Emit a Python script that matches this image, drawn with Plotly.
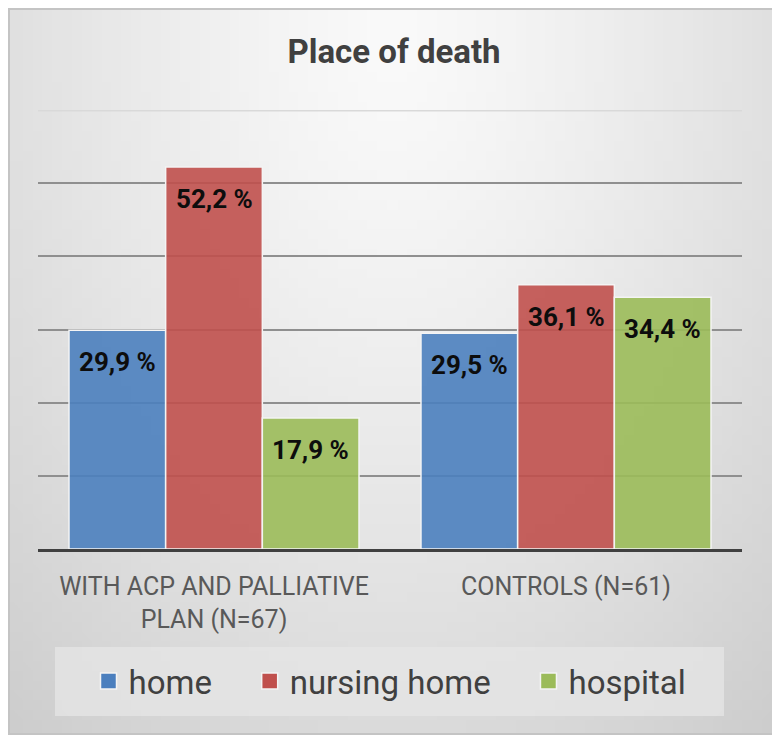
import base64
import struct
import zlib

import numpy as np
import plotly.graph_objects as go

# data
groups = ["WITH ACP AND PALLIATIVE<br>PLAN (N=67)", "CONTROLS (N=61)"]
places = ["home", "nursing home", "hospital"]
home = [29.9, 29.5]
nursing_home = [52.2, 36.1]
hospital = [17.9, 34.4]
series = [home, nursing_home, hospital]
colors = ["rgba(75,127,190,0.9)", "rgba(192,80,77,0.9)", "rgba(155,187,89,0.9)"]
solid = ["#4b7fbe", "#c0504d", "#9bbb59"]

# the page body adds an 8px margin, so the figure is drawn 8px smaller
OFF = 8
W, H = 780 - OFF, 740 - OFF
ML, MR, MT, MB = 38 - OFF, 38, 110 - OFF, 191
BARGAP = 0.176


def gradient_png(w=78, h=74):
    # soft radial grey background, lightest at top centre
    ys, xs = np.mgrid[0:h, 0:w]
    px = (xs + 0.5) / w * 770 + 5
    py = (ys + 0.5) / h * 729 + 5
    d = np.sqrt(((px - 390) / 520) ** 2 + ((py - 40) / 800) ** 2)
    c = np.clip(250 - 38 * d ** 1.3, 0, 255).astype(np.uint8)
    raw = b"".join(b"\x00" + row.tobytes() for row in c)

    def chunk(tag, data):
        body = tag + data
        return struct.pack(">I", len(data)) + body + struct.pack(">I", zlib.crc32(body) & 0xffffffff)

    png = b"\x89PNG\r\n\x1a\n"
    png += chunk(b"IHDR", struct.pack(">IIBBBBB", w, h, 8, 0, 0, 0, 0))
    png += chunk(b"IDAT", zlib.compress(raw, 9))
    png += chunk(b"IEND", b"")
    return "data:image/png;base64," + base64.b64encode(png).decode()


pw = W - ML - MR
ph = H - MT - MB


def px_x(x):
    return (x - OFF - ML) / pw


def px_y(y):
    return (H - MB - (y - OFF)) / ph


fig = go.Figure()
for name, vals, col in zip(places, series, colors):
    fig.add_trace(go.Bar(x=groups, y=vals, name=name, showlegend=False,
                         marker=dict(color=col, line=dict(color="#f4f4f4", width=1.5))))
# legend entries with bigger squares; trailing nbsp widen the gap between items
pad = ["\u00a0" * 4, "\u00a0" * 4, ""]
for name, col, p in zip(places, solid, pad):
    fig.add_trace(go.Scatter(x=[None], y=[None], mode="markers", name=name + p,
                             marker=dict(symbol="square", size=16, color=col,
                                         line=dict(color="#f4f4f4", width=1.5))))

bar_px = pw / len(groups) * (1 - BARGAP) / len(places)
for i, vals in enumerate(series):
    for g, v in zip(groups, vals):
        fig.add_annotation(x=g, y=v, text=f"{v:.1f}".replace(".", ",") + " %",
                           showarrow=False, xshift=(i - 1) * bar_px, yshift=-32,
                           font=dict(family="Roboto", size=26, color="#0d0d0d", weight="bold"))

fx0, fx1 = px_x(OFF + 1), px_x(776)
fy0, fy1 = px_y(734), px_y(OFF + 1)
fig.add_layout_image(source=gradient_png(), xref="paper", yref="paper", x=px_x(OFF), y=px_y(OFF),
                     sizex=px_x(776) - px_x(OFF), sizey=px_y(OFF) - px_y(734),
                     xanchor="left", yanchor="top", sizing="stretch", layer="below")
fig.add_shape(type="rect", xref="paper", yref="paper", x0=fx0, x1=fx1, y0=fy0, y1=fy1,
              line=dict(color="#c4c4c4", width=2), layer="below")
# legend box
fig.add_shape(type="rect", xref="paper", yref="paper",
              x0=px_x(55), x1=px_x(724), y0=px_y(716), y1=px_y(647),
              line=dict(width=0), fillcolor="rgba(230,230,230,0.75)", layer="below")
# top gridline is paler
fig.add_shape(type="line", xref="paper", yref="y", x0=0, x1=1, y0=60, y1=60,
              line=dict(color="#d9d9d9", width=3), layer="below")

fig.update_layout(
    width=W, height=H,
    margin=dict(l=ML, r=MR, t=MT, b=MB),
    paper_bgcolor="white", plot_bgcolor="rgba(0,0,0,0)",
    barmode="group", bargap=BARGAP, bargroupgap=0,
    title=dict(text="<b>Place of death</b>", x=0.5, xanchor="center",
               y=1 - (51 - OFF) / H, yanchor="middle",
               font=dict(family="Roboto", size=33, color="#404040")),
    xaxis=dict(showline=True, linecolor="#404040", linewidth=3, ticks="outside",
               ticklen=13, tickcolor="rgba(0,0,0,0)",
               tickfont=dict(family="Roboto", size=25, color="#595959")),
    yaxis=dict(range=[0, 60], tickvals=[10, 20, 30, 40, 50], showticklabels=False,
               gridcolor="#8f8f8f", gridwidth=2, zeroline=False),
    legend=dict(orientation="h", x=0.5, xanchor="center", y=px_y(681),
                yanchor="middle", bgcolor="rgba(0,0,0,0)",
                font=dict(family="Roboto", size=33, color="#404040")),
)

fig.write_html("out.html")
